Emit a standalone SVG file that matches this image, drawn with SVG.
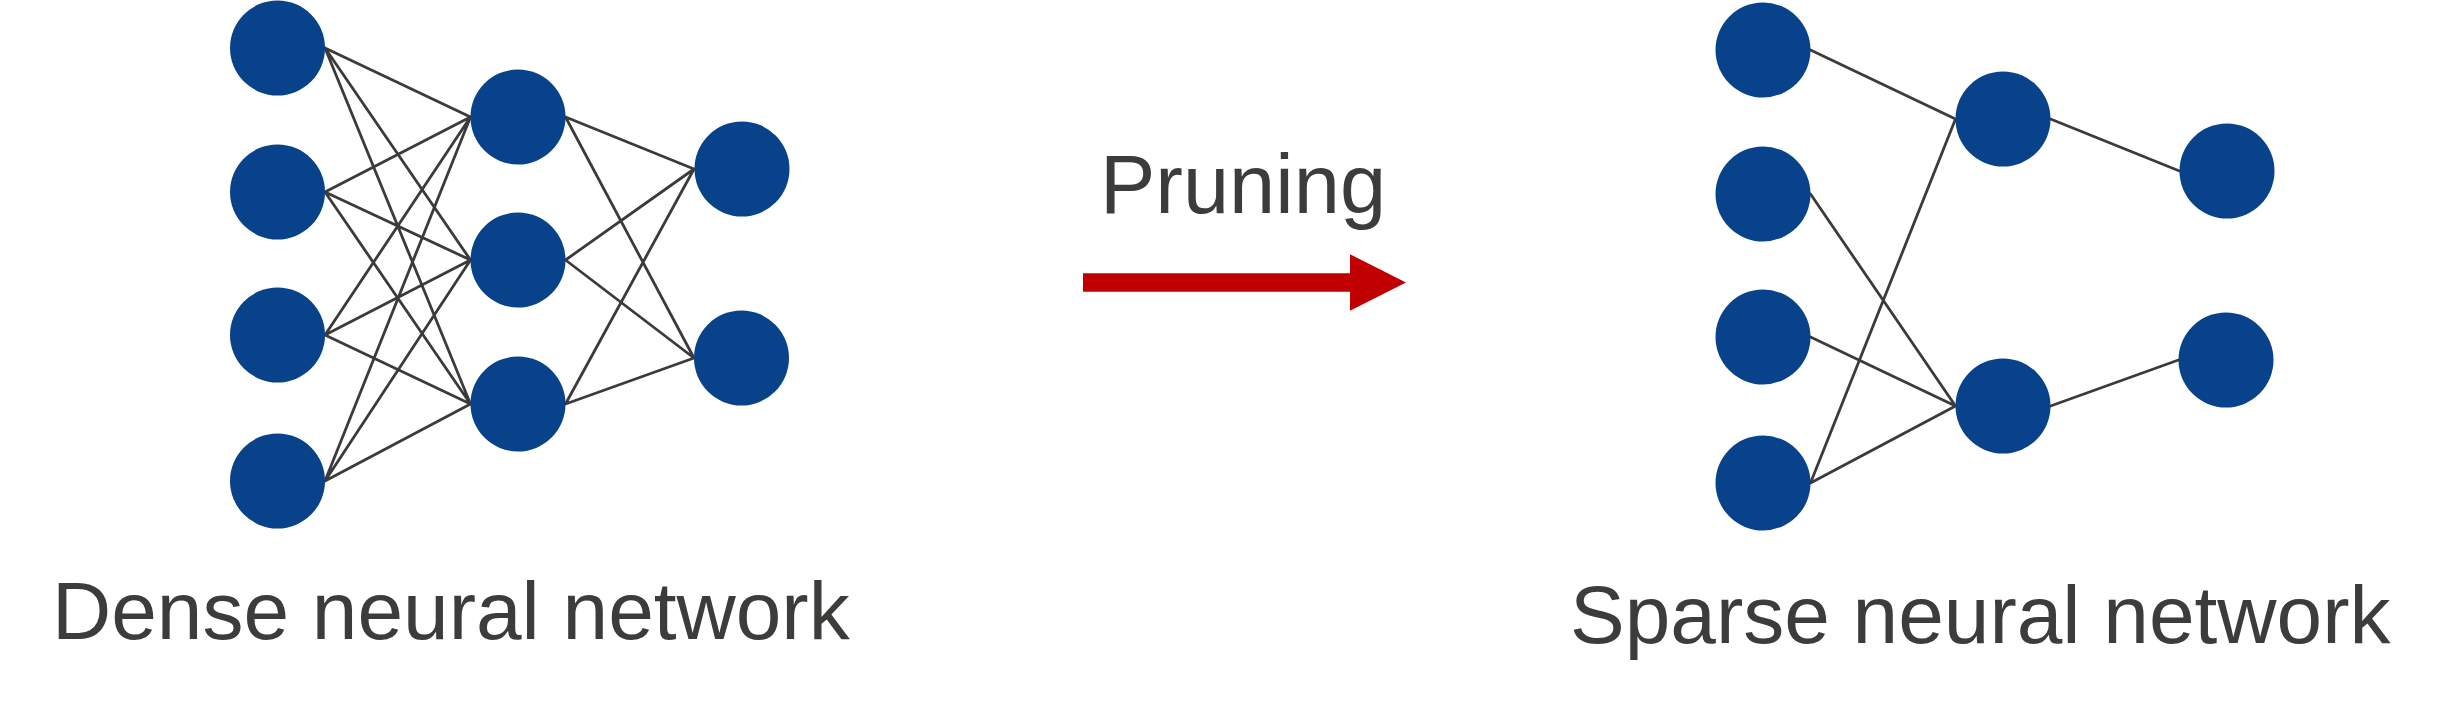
<svg xmlns="http://www.w3.org/2000/svg" width="2445" height="713" viewBox="0 0 2445 713">
<style>
.node{fill:#08428a}
.edge{stroke:#3b3b3b;stroke-width:2.8;fill:none;stroke-linecap:round}
.lbl{font-family:"Liberation Sans",Arial,sans-serif;fill:#3c3c3b}
</style>
<rect width="2445" height="713" fill="#ffffff"/>
<g id="dense-edges">
<path class="edge" d="M325,48L470.5,117M325,48L470.5,260M325,48L470.5,404M325,192L470.5,117M325,192L470.5,260M325,192L470.5,404M325,335L470.5,117M325,335L470.5,260M325,335L470.5,404M325,481L470.5,117M325,481L470.5,260M325,481L470.5,404M565.5,117L694,169M565.5,117L694,358M565.5,260L694,169M565.5,260L694,358M565.5,404L694,169M565.5,404L694,358"/>
</g>
<g id="dense-nodes">
<g id="d-in1"><circle class="node" cx="277.5" cy="48" r="47.5"/></g>
<g id="d-in2"><circle class="node" cx="277.5" cy="192" r="47.5"/></g>
<g id="d-in3"><circle class="node" cx="277.5" cy="335" r="47.5"/></g>
<g id="d-in4"><circle class="node" cx="277.5" cy="481" r="47.5"/></g>
<g id="d-h1"><circle class="node" cx="518" cy="117" r="47.5"/></g>
<g id="d-h2"><circle class="node" cx="518" cy="260" r="47.5"/></g>
<g id="d-h3"><circle class="node" cx="518" cy="404" r="47.5"/></g>
<g id="d-out1"><circle class="node" cx="742" cy="169" r="47.5"/></g>
<g id="d-out2"><circle class="node" cx="741.5" cy="358" r="47.5"/></g>
</g>
<g id="sparse-edges">
<path class="edge" d="M1810.5,50L1955.5,119M1810.5,194L1955.5,406M1810.5,337L1955.5,406M1810.5,483L1955.5,119M1810.5,483L1955.5,406M2050.5,119L2179.5,171M2050.5,406L2178.5,360"/>
</g>
<g id="sparse-nodes">
<g id="s-in1"><circle class="node" cx="1763" cy="50" r="47.5"/></g>
<g id="s-in2"><circle class="node" cx="1763" cy="194" r="47.5"/></g>
<g id="s-in3"><circle class="node" cx="1763" cy="337" r="47.5"/></g>
<g id="s-in4"><circle class="node" cx="1763" cy="483" r="47.5"/></g>
<g id="s-h1"><circle class="node" cx="2003" cy="119" r="47.5"/></g>
<g id="s-h2"><circle class="node" cx="2003" cy="406" r="47.5"/></g>
<g id="s-out1"><circle class="node" cx="2227" cy="171" r="47.5"/></g>
<g id="s-out2"><circle class="node" cx="2226" cy="360" r="47.5"/></g>
</g>
<g id="pruning-arrow">
<polygon fill="#c00000" points="1083,273.3 1350,273.3 1350,254.3 1406,282.5 1350,310.7 1350,291.7 1083,291.7"/>
<text class="lbl" x="1243" y="212.7" font-size="83" text-anchor="middle">Pruning</text>
</g>
<text class="lbl" x="52" y="639.3" font-size="82">Dense neural network</text>
<text class="lbl" x="1570" y="643" font-size="82">Sparse neural network</text>
</svg>
